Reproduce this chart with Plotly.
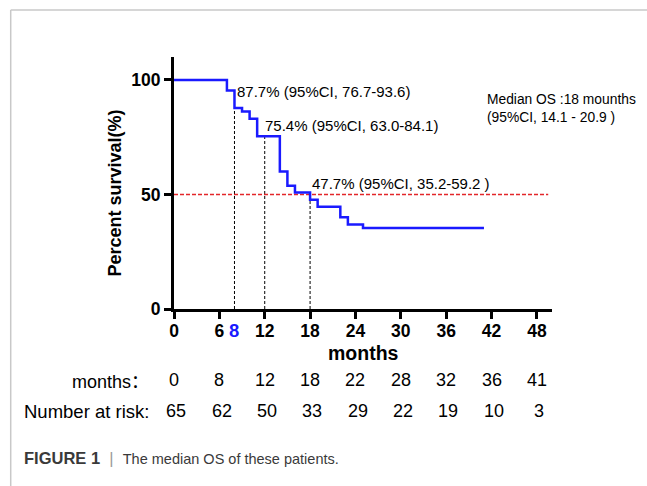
import plotly.graph_objects as go

# ---- data ----
months = [0, 7, 8, 9, 10, 11, 14, 15, 16, 18, 19, 22, 23, 25, 41]
survival = [100, 95.4, 87.7, 86.2, 83.1, 75.4, 60.0, 53.8, 50.8, 47.7, 44.6, 40.0, 36.9, 35.4, 35.4]

x_ticks = [0, 6, 12, 18, 24, 30, 36, 42, 48]
y_ticks = [0, 50, 100]

marker_months = [8, 12, 18]
marker_surv = [87.7, 75.4, 47.7]
marker_labels = ["87.7% (95%CI, 76.7-93.6)",
                 "75.4% (95%CI, 63.0-84.1)",
                 "47.7% (95%CI, 35.2-59.2 )"]
median_line = 50

risk_months = ["0", "8", "12", "18", "22", "28", "32", "36", "41"]
risk_numbers = ["65", "62", "50", "33", "29", "22", "19", "10", "3"]

FONT = "Liberation Sans, Arial, Helvetica, sans-serif"

fig = go.Figure()

# reference lines (vertical dashed)
for mx, sy in zip(marker_months, marker_surv):
    fig.add_shape(type="line", x0=mx, x1=mx, y0=0, y1=sy, xref="x", yref="y",
                  line=dict(color="black", width=1, dash="3px,2px"), layer="below")
# median 50% line
fig.add_shape(type="line", x0=0, x1=49.5, y0=median_line, y1=median_line, xref="x", yref="y",
              line=dict(color="#e3262a", width=1.5, dash="4px,2px"), layer="below")

fig.add_trace(go.Scatter(x=months, y=survival, mode="lines", line_shape="hv",
                         line=dict(color="#1a1aff", width=2.5), showlegend=False,
                         cliponaxis=False, hoverinfo="skip"))

# point annotations
offsets = [(0.1, 7.1), (-0.2, 4.5), (0.0, 7.3)]
for (mx, sy, lab), (dx, dy) in zip(zip(marker_months, marker_surv, marker_labels), offsets):
    fig.add_annotation(x=mx + dx, y=sy + dy, text=lab, showarrow=False, xref="x", yref="y",
                       xanchor="left", yanchor="middle",
                       font=dict(family=FONT, size=15, color="black"))

fig.add_annotation(x=41.2, y=87.7, xref="x", yref="y", xanchor="left", yanchor="middle",
                   text="Median OS :18 mounths<br>(95%CI, 14.1 - 20.9 )", align="left",
                   showarrow=False, font=dict(family=FONT, size=13.8, color="black"))

# blue "8" label
fig.add_annotation(x=8, y=-0.085, xref="x", yref="paper", text="<b>8</b>", showarrow=False,
                   xanchor="center", yanchor="middle",
                   font=dict(family=FONT, size=18.5, color="#1a1aff"))

# axis titles
fig.add_annotation(x=0.5, y=-0.174, xref="paper", yref="paper", text="<b>months</b>",
                   showarrow=False, xanchor="center", yanchor="middle",
                   font=dict(family=FONT, size=19.5, color="black"))
fig.add_annotation(x=-0.155, y=0.46, xref="paper", yref="paper", text="<b>Percent survival(%)</b>",
                   showarrow=False, textangle=-90, xanchor="center", yanchor="middle",
                   font=dict(family=FONT, size=18, color="black"))

# risk table
row_y = [-0.2817, -0.4048]
fig.add_annotation(x=-0.062, y=row_y[0], xref="paper", yref="paper",
                   text="months<span style='font-family:\"Noto Sans CJK SC\"'>：</span>",
                   showarrow=False, xanchor="right", yanchor="middle",
                   font=dict(family=FONT, size=18, color="black"))
fig.add_annotation(x=-0.062, y=row_y[1], xref="paper", yref="paper", text="Number at risk:",
                   showarrow=False, xanchor="right", yanchor="middle",
                   font=dict(family=FONT, size=18.5, color="black"))
for xt, m, n in zip(x_ticks, risk_months, risk_numbers):
    fig.add_annotation(x=xt, y=row_y[0], xref="x", yref="paper", text=m, showarrow=False,
                       xanchor="center", yanchor="middle",
                       font=dict(family=FONT, size=18, color="black"))
    fig.add_annotation(x=xt + 0.3, y=row_y[1], xref="x", yref="paper", text=n, showarrow=False,
                       xanchor="center", yanchor="middle",
                       font=dict(family=FONT, size=18, color="black"))

# caption
fig.add_annotation(x=-0.402, y=-0.593, xref="paper", yref="paper",
                   text="<b>FIGURE 1</b>  <span style='color:#9a9a9a'>|</span>  "
                        "<span style='font-size:14.5px'>The median OS of these patients.</span>",
                   showarrow=False, xanchor="left", yanchor="middle",
                   font=dict(family=FONT, size=16.5, color="#3a3a3a"))

# border lines
fig.add_shape(type="line", xref="paper", yref="paper", x0=-0.432, x1=1.3, y0=1.1865, y1=1.1865,
              line=dict(color="#c8c8c8", width=1.5))
fig.add_shape(type="line", xref="paper", yref="paper", x0=-0.432, x1=-0.432, y0=1.1865, y1=-0.71,
              line=dict(color="#c8c8c8", width=1.5))

axis_common = dict(showline=True, linecolor="black", linewidth=3, ticks="outside",
                   ticklen=7, tickwidth=3, tickcolor="black", showgrid=False, zeroline=False,
                   tickfont=dict(family=FONT, size=17.5, color="black", weight="bold"))

fig.update_xaxes(range=[0, 50], tickvals=x_ticks, ticktext=[str(t) for t in x_ticks],
                 ticklabelstandoff=-3, **axis_common)
fig.update_yaxes(range=[0, 110], tickvals=y_ticks, ticktext=[str(t) for t in y_ticks], **axis_common)

fig.update_layout(width=647, height=486, margin=dict(l=173.5, r=95, t=57, b=177),
                  plot_bgcolor="white", paper_bgcolor="white", showlegend=False)

fig.write_html("out.html", config={"displayModeBar": False},
               post_script="document.body.style.margin='0px';")
